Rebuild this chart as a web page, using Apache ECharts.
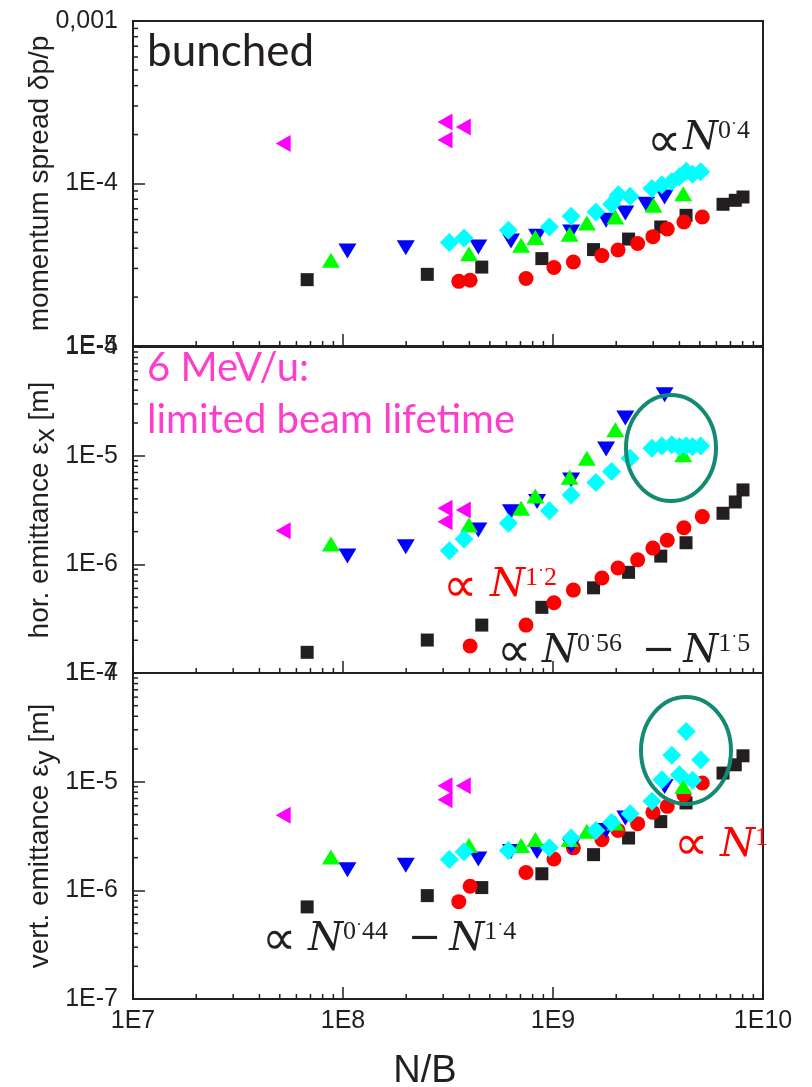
<!DOCTYPE html>
<html><head><meta charset="utf-8">
<script src="https://cdn.jsdelivr.net/npm/echarts@6/dist/echarts.min.js"></script>
<style>html,body{margin:0;padding:0;background:#fff}#c{width:812px;height:1087px}</style>
</head><body><div id="c"></div>
<script>
// ---------- data (N/B on x; three quantities on y) ----------
const xTickLabels = ['1E7', '1E8', '1E9', '1E10'];

const blackN  = [6.75e7, 2.52e8, 4.58e8, 8.85e8, 1.56e9, 2.29e9, 3.26e9, 4.30e9, 6.45e9, 7.38e9, 8.03e9];
const blackDp = [2.56e-5, 2.76e-5, 3.06e-5, 3.45e-5, 3.92e-5, 4.55e-5, 5.40e-5, 6.37e-5, 7.45e-5, 7.88e-5, 8.26e-5];
const blackEx = [1.55e-7, 2.01e-7, 2.76e-7, 4.02e-7, 6.08e-7, 8.44e-7, 1.19e-6, 1.58e-6, 2.95e-6, 3.75e-6, 4.84e-6];
const blackEy = [7.04e-7, 8.94e-7, 1.06e-6, 1.42e-6, 2.13e-6, 3.03e-6, 4.29e-6, 6.37e-6, 1.20e-5, 1.43e-5, 1.73e-5];

const redN  = [3.56e8, 4.03e8, 7.44e8, 1.01e9, 1.25e9, 1.71e9, 2.04e9, 2.53e9, 2.99e9, 3.50e9, 4.20e9, 5.14e9];
const redDp = [2.50e-5, 2.54e-5, 2.60e-5, 3.04e-5, 3.29e-5, 3.60e-5, 3.90e-5, 4.27e-5, 4.71e-5, 5.25e-5, 5.80e-5, 6.22e-5];
const redEx = [null, 1.77e-7, 2.76e-7, 4.43e-7, 5.79e-7, 7.48e-7, 9.24e-7, 1.10e-6, 1.41e-6, 1.67e-6, 2.17e-6, 2.75e-6];
const redEy = [7.87e-7, 1.09e-6, 1.46e-6, 1.94e-6, 2.46e-6, 2.93e-6, 3.56e-6, 4.11e-6, 5.22e-6, 5.93e-6, 7.59e-6, 9.73e-6];

const greenN  = [8.76e7, 3.98e8, 7.05e8, 8.24e8, 1.20e9, 1.45e9, 1.98e9, 3.01e9, 4.17e9];
const greenDp = [3.37e-5, 3.70e-5, 4.17e-5, 4.65e-5, 4.87e-5, 5.71e-5, 6.22e-5, 7.34e-5, 8.66e-5];
const greenEx = [1.54e-6, 2.30e-6, 3.28e-6, 4.26e-6, 6.34e-6, 9.48e-6, 1.73e-5, null, 1.02e-5];
const greenEy = [2.03e-6, 2.58e-6, 2.58e-6, 2.93e-6, 2.93e-6, 3.49e-6, 4.17e-6, null, 9.05e-6];

const blueN  = [1.05e8, 1.99e8, 4.41e8, 6.31e8, 8.40e8, 1.22e9, 1.79e9, 2.21e9, 2.78e9, 3.40e9];
const blueDp = [3.84e-5, 4.03e-5, 4.07e-5, 4.43e-5, 4.73e-5, 5.03e-5, 5.94e-5, 6.58e-5, 7.45e-5, 8.26e-5];
const blueEx = [1.19e-6, 1.45e-6, 2.07e-6, 3.05e-6, 3.78e-6, 5.98e-6, 1.15e-5, 2.22e-5, null, 3.63e-5];
const blueEy = [1.55e-6, 1.70e-6, 1.94e-6, 2.28e-6, 2.28e-6, 2.54e-6, 3.56e-6, 4.64e-6, null, 9.05e-6];

const cyanN  = [3.21e8, 3.77e8, 6.13e8, 9.61e8, 1.22e9, 1.60e9, 1.90e9, 2.05e9, 2.33e9, 2.96e9, 3.30e9, 3.68e9, 4.00e9, 4.31e9, 4.62e9, 5.05e9];
const cyanDp = [4.33e-5, 4.62e-5, 5.15e-5, 5.40e-5, 6.28e-5, 6.68e-5, 7.45e-5, 8.54e-5, 8.34e-5, 9.30e-5, 9.84e-5, 1.03e-4, 1.10e-4, 1.19e-4, 1.14e-4, 1.18e-4];
const cyanEx = [1.33e-6, 1.71e-6, 2.39e-6, 3.12e-6, 4.35e-6, 5.65e-6, 7.14e-6, null, 9.48e-6, 1.17e-5, 1.23e-5, 1.26e-5, 1.21e-5, 1.23e-5, 1.21e-5, 1.23e-5];
const cyanEy = [1.92e-6, 2.26e-6, 2.33e-6, 2.46e-6, 3.03e-6, 3.56e-6, 4.22e-6, null, 5.08e-6, 6.59e-6, 1.04e-5, 1.75e-5, 1.16e-5, 2.90e-5, 1.03e-5, 1.59e-5];

const magN  = [5.19e7, 3.06e8, 3.06e8, 3.74e8];
const magDp = [1.76e-4, 2.39e-4, 1.85e-4, 2.23e-4];
const magEx = [2.04e-6, 3.28e-6, 2.47e-6, 3.17e-6];
const magEy = [4.90e-6, 9.19e-6, 6.83e-6, 9.19e-6];

// ---------- layout / style ----------
const INK = '#231f20';
const SANS = "'Liberation Sans', Arial, sans-serif";
const panels = [
  {top: 21,  height: 325, min: 1e-5, max: 1e-3, name: 'momentum spread δp/p'},
  {top: 347, height: 326, min: 1e-7, max: 1e-4, name: 'hor. emittance ε{sub|x} [m]'},
  {top: 673, height: 326, min: 1e-7, max: 1e-4, name: 'vert. emittance ε{sub|y} [m]'}
];
const groups = [
  {key: 'black', N: blackN, ys: [blackDp, blackEx, blackEy], symbol: 'rect', size: 13, rot: 0, color: INK},
  {key: 'red',   N: redN,   ys: [redDp, redEx, redEy],       symbol: 'circle', size: 15, rot: 0, color: '#ff0000'},
  {key: 'blue',  N: blueN,  ys: [blueDp, blueEx, blueEy],    symbol: 'triangle', size: [18, 15], rot: 180, color: '#0000ff'},
  {key: 'green', N: greenN, ys: [greenDp, greenEx, greenEy], symbol: 'triangle', size: [18, 15], rot: 0, color: '#00ff00'},
  {key: 'cyan',  N: cyanN,  ys: [cyanDp, cyanEx, cyanEy],    symbol: 'diamond', size: [19, 19], rot: 0, color: '#00ffff'},
  {key: 'mag',   N: magN,   ys: [magDp, magEx, magEy],       symbol: 'triangle', size: [17, 15], rot: 90, color: '#ff00ff'}
];

function decadeMinors(eFrom, eTo) {
  const out = [];
  for (let e = eFrom; e < eTo; e++) for (let m = 2; m <= 9; m++) out.push(m * Math.pow(10, e));
  return out;
}
const xMinor = decadeMinors(7, 10);

const grid = [], xAxis = [], yAxis = [], series = [];
panels.forEach((p, g) => {
  grid.push({left: 133, width: 630, top: p.top, height: p.height, show: true,
             borderColor: INK, borderWidth: 2, backgroundColor: 'transparent', outerBoundsMode: 'none'});
  xAxis.push({
    type: 'log', logBase: 10, gridIndex: g, min: 1e7, max: 1e10,
    axisLine: {show: true, lineStyle: {color: INK, width: 2}},
    axisTick: {show: true, inside: true, length: 12, lineStyle: {color: INK, width: 1.5}},
    splitLine: {show: false},
    axisLabel: {show: g === 2, margin: 10, color: INK, fontFamily: SANS, fontSize: 25,
                formatter: v => xTickLabels[Math.round(Math.log10(v)) - 7]},
    name: g === 2 ? 'N/B' : '', nameLocation: 'middle', nameGap: 54, nameMoveOverlap: false,
    nameTextStyle: {fontFamily: SANS, fontSize: 38, color: INK, padding: [0, 46, 0, 0]}
  });
  yAxis.push({
    type: 'log', logBase: 10, gridIndex: g, min: p.min, max: p.max,
    axisLine: {show: true, lineStyle: {color: INK, width: 2}},
    axisTick: {show: true, inside: true, length: 12, lineStyle: {color: INK, width: 1.5}},
    splitLine: {show: false},
    axisLabel: {show: true, margin: 15, color: INK, fontFamily: SANS, fontSize: 25,
                showMinLabel: true, showMaxLabel: true,
                formatter: v => { const e = Math.round(Math.log10(v)); return e === -3 ? '0,001' : '1E' + e; }},
    name: p.name, nameLocation: 'middle', nameRotate: 90, nameGap: 73, nameMoveOverlap: false,
    nameTextStyle: {fontFamily: SANS, fontSize: 28, color: INK, lineHeight: 40,
                    rich: {sub: {fontFamily: SANS, fontSize: 28, color: INK, lineHeight: 40, verticalAlign: 'bottom'}}}
  });
  const yMin = p.min;
  const yMinor = decadeMinors(Math.round(Math.log10(p.min)), Math.round(Math.log10(p.max)));
  series.push({
    type: 'custom', xAxisIndex: g, yAxisIndex: g, silent: true, clip: false, z: 1,
    data: xMinor.map(v => [v, yMin]),
    renderItem: (params, api) => {
      const c = api.coord([api.value(0), api.value(1)]);
      return {type: 'line', shape: {x1: c[0], y1: c[1], x2: c[0], y2: c[1] - 5},
              style: {stroke: INK, lineWidth: 1.5}};
    }
  });
  series.push({
    type: 'custom', xAxisIndex: g, yAxisIndex: g, silent: true, clip: false, z: 1,
    data: yMinor.map(v => [1e7, v]),
    renderItem: (params, api) => {
      const c = api.coord([api.value(0), api.value(1)]);
      return {type: 'line', shape: {x1: c[0], y1: c[1], x2: c[0] + 5, y2: c[1]},
              style: {stroke: INK, lineWidth: 1.5}};
    }
  });
  groups.forEach((s, k) => {
    const ys = s.ys[g];
    const data = [];
    s.N.forEach((x, i) => { if (ys[i] != null) data.push([x, ys[i]]); });
    series.push({
      type: 'scatter', name: s.key, xAxisIndex: g, yAxisIndex: g, data,
      symbol: s.symbol, symbolSize: s.size, symbolRotate: s.rot,
      itemStyle: {color: s.color, opacity: 1}, silent: true, z: 2 + k,
      emphasis: {disabled: true}
    });
  });
});

// ---------- annotations ----------
const fRich = c => ({
  n: {fontFamily: 'DejaVu Serif', fontStyle: 'italic', fontSize: 40, lineHeight: 46, fill: c},
  s: {fontFamily: 'Liberation Serif', fontSize: 26, lineHeight: 30, verticalAlign: 'top', padding: [2, 0, 0, 0], fill: c},
  d: {fontFamily: 'Liberation Serif', fontSize: 18, lineHeight: 30, verticalAlign: 'top', padding: [5, 0, 0, 0], fill: c},
  g: {fontFamily: 'DejaVu Serif', fontSize: 24, lineHeight: 46, fill: c},
  m: {fontFamily: 'DejaVu Serif', fontSize: 40, lineHeight: 46, fill: c}
});
// ∝ placed by its centre; each power-law segment placed by its left edge and line top
function formula(px, pcy, segs, ny, color) {
  const els = [{type: 'text', x: px - 5, y: pcy + 6.5, z: 100, silent: true,
     style: {text: '∝', fill: color, fontFamily: 'DejaVu Sans', fontSize: 48, verticalAlign: 'middle', align: 'left'}}];
  segs.forEach(([text, x]) => els.push({type: 'text', x, y: ny, z: 100, silent: true,
     style: {text, fill: color, fontFamily: 'DejaVu Serif', fontSize: 40, lineHeight: 46,
             verticalAlign: 'top', align: 'left', rich: fRich(color)}}));
  return els;
}
const graphic = [
  {type: 'text', x: 147, y: 51.5, z: 100, silent: true,
   style: {text: 'bunched', fill: INK, fontFamily: 'Lato', fontSize: 44, verticalAlign: 'middle', align: 'left'}},
  {type: 'text', x: 147, y: 342, z: 100, silent: true,
   style: {text: '6 MeV/u:\nlimited beam lifetime', fill: '#ff3dcc', fontFamily: 'Lato', fontSize: 40,
           lineHeight: 52, verticalAlign: 'top', align: 'left'}},
  ...formula(652, 137.5, [['{n|N}{s|0}{d|˙}{s|4}', 683]], 116, INK),
  ...formula(448, 582.5, [['{n|N}{s|1}{d|˙}{s|2}', 490]], 563, '#ff0000'),
  ...formula(502, 646.7, [['{n|N}{s|0}{d|˙}{s|56}', 542], ['{m|−}{g| }{n|N}{s|1}{d|˙}{s|5}', 642]], 629, INK),
  ...formula(267, 935, [['{n|N}{s|0}{d|˙}{s|44}', 308], ['{m|−}{g| }{n|N}{s|1}{d|˙}{s|4}', 408]], 917, INK),
  ...formula(679, 840, [['{n|N}{s|1}', 720]], 823, '#ff0000'),
  {type: 'ellipse', z: 101, silent: true, shape: {cx: 671, cy: 448, rx: 45, ry: 53},
   style: {fill: 'none', stroke: '#138a72', lineWidth: 4}},
  {type: 'ellipse', z: 101, silent: true, shape: {cx: 686, cy: 750.5, rx: 45, ry: 53.5},
   style: {fill: 'none', stroke: '#138a72', lineWidth: 4}}
];

const chart = echarts.init(document.getElementById('c'), null, {renderer: 'canvas'});
chart.setOption({
  animation: false, backgroundColor: '#ffffff',
  textStyle: {fontFamily: SANS},
  grid, xAxis, yAxis, series, graphic
});
</script>
</body></html>
